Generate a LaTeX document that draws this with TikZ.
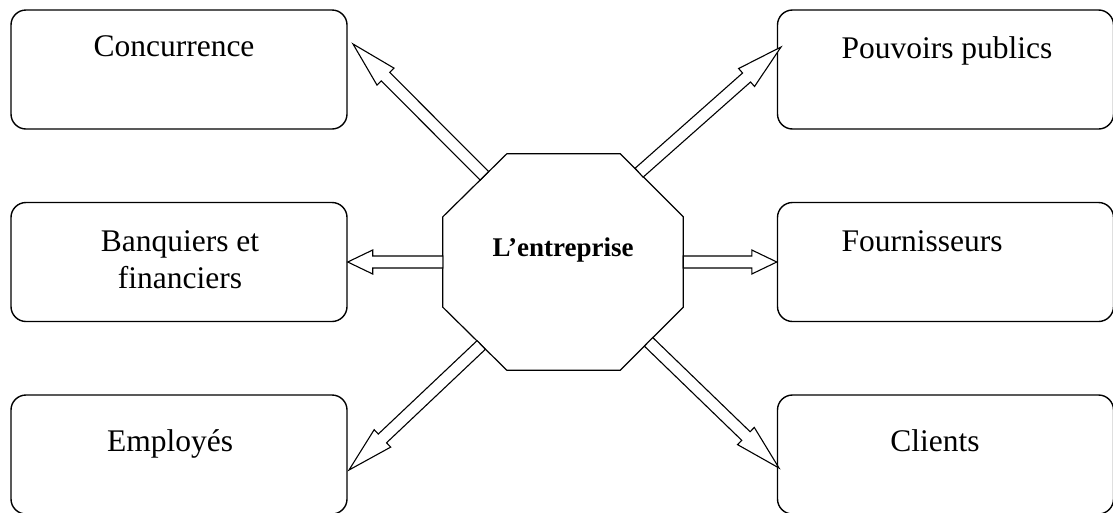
\documentclass[tikz,border=0pt]{standalone}
\usepackage{fontspec}
\setmainfont{Liberation Serif}
\usetikzlibrary{calc}
\tikzset{
  box/.style={draw, line width=1.4pt, rounded corners=15pt, minimum width=336pt, minimum height=119pt, inner sep=0pt},
  lbl/.style={anchor=base, inner sep=0pt, font=\fontsize{31.5}{37}\selectfont},
  octline/.style={draw, line width=1.2pt},
  fat/.style={draw, fill=white, line width=1.1pt, line join=miter},
}
\newcommand\fatarr[3]{%
  \path ($(#2)!#3!(#1)$) coordinate (hb);
  \draw[fat] ($(#1)!6pt!90:(#2)$) -- ($(hb)!6pt!90:(#2)$) -- ($(hb)!12pt!90:(#2)$) -- (#2)
    -- ($(hb)!12pt!-90:(#2)$) -- ($(hb)!6pt!-90:(#2)$) -- ($(#1)!6pt!-90:(#2)$) -- cycle;
}
\begin{document}
\begin{tikzpicture}[x=1pt,y=-1pt]
\useasboundingbox (0,0) rectangle (1113,512);
% boxes
\node[box] (conc) at (179,69.5) {};
\node[box] (banq) at (179,262) {};
\node[box] (empl) at (179,454.5) {};
\node[box] (pouv) at (945.5,69.5) {};
\node[box] (four) at (945.5,262) {};
\node[box] (clie) at (945.5,454.5) {};
% labels
\node[lbl] (tconc) at (174,56) {Concurrence};
\node[lbl] (tbanq1) at (180,251) {Banquiers et};
\node[lbl] (tbanq2) at (180,288) {financiers};
\node[lbl] (templ) at (170,451) {Employés};
\node[lbl] (tpouv) at (947,58) {Pouvoirs publics};
\node[lbl] (tfour) at (922,251) {Fournisseurs};
\node[lbl] (tclie) at (935,451) {Clients};
% octagon
\node[minimum width=240pt, minimum height=216pt, inner sep=0pt] (ent) at (563,262) {};
\coordinate (c1) at ([yshift=-63pt]ent.north west);
\coordinate (c2) at ([xshift=64pt]ent.north west);
\coordinate (c3) at ([xshift=-63pt]ent.north east);
\coordinate (c4) at ([yshift=-63pt]ent.north east);
\coordinate (c5) at ([yshift=63pt]ent.south east);
\coordinate (c6) at ([xshift=-63pt]ent.south east);
\coordinate (c7) at ([xshift=64pt]ent.south west);
\coordinate (c8) at ([yshift=63pt]ent.south west);
\draw[octline] (c1) -- (c2) -- (c3) -- (c4) -- (c5) -- (c6) -- (c7) -- (c8) -- cycle;
\node[anchor=base, inner sep=0pt, font=\fontsize{27}{31}\selectfont\bfseries] (tent) at (563,256) {L’entreprise};
% arrow ends
\coordinate (tTL) at ($(c1)!0.65!(c2)$);
\coordinate (tTR) at ($(c3)!0.3!(c4)$);
\coordinate (tBL) at ($(c8)!0.6!(c7)$);
\coordinate (tBR) at ($(c6)!0.45!(c5)$);
\coordinate (tL) at (ent.west);
\coordinate (tR) at (ent.east);
\coordinate (pTL) at (353,44);
\coordinate (pTR) at (781,47);
\coordinate (pBL) at (349,470);
\coordinate (pBR) at (779,468);
\coordinate (pL) at (banq.east);
\coordinate (pR) at (four.west);
\fatarr{tTL}{pTL}{46pt}
\fatarr{tTR}{pTR}{46pt}
\fatarr{tBL}{pBL}{46pt}
\fatarr{tBR}{pBR}{46pt}
\fatarr{tL}{pL}{25pt}
\fatarr{tR}{pR}{25pt}
\end{tikzpicture}
\end{document}
